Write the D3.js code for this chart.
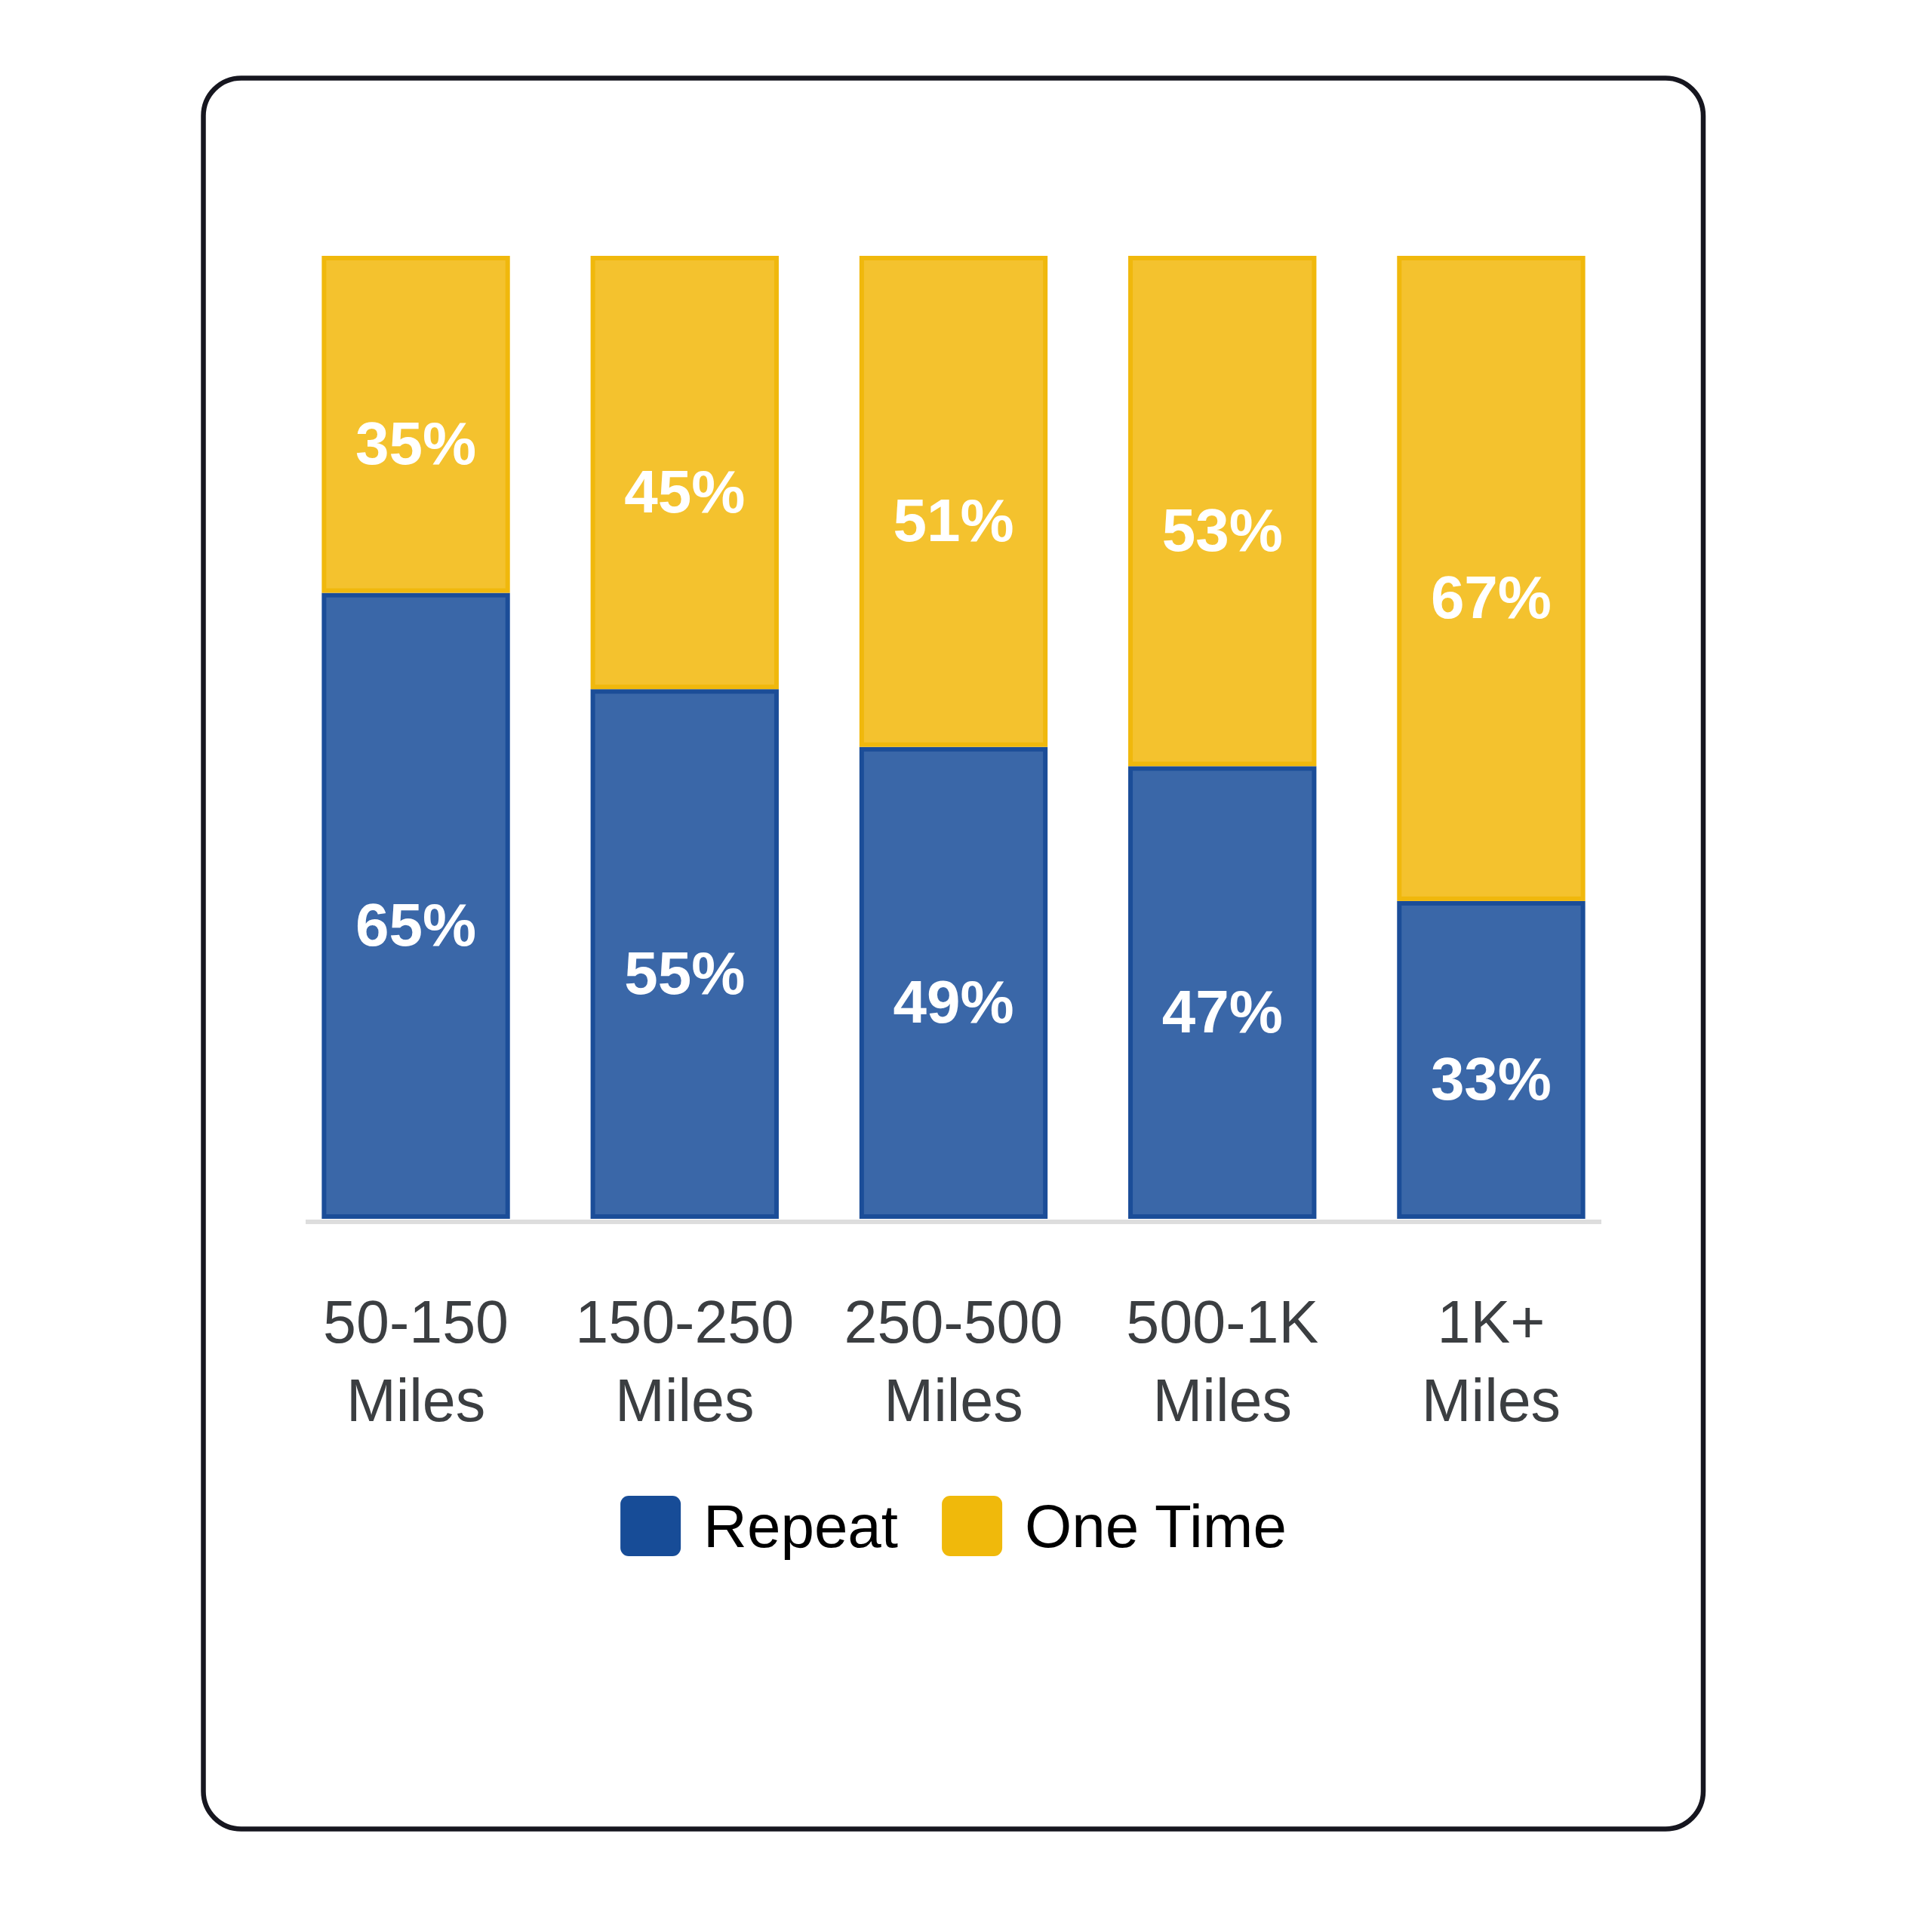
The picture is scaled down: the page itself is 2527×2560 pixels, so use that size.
<!DOCTYPE html>
<html>
<head>
<meta charset="utf-8">
<script src="https://cdn.jsdelivr.net/npm/d3@7"></script>
<style>
  body { margin: 0; background: #ffffff; }
  text { font-family: "Liberation Sans", Arial, sans-serif; }
</style>
</head>
<body>
<div id="chart"></div>
<script>
// Data
var categories = ["50-150 Miles", "150-250 Miles", "250-500 Miles", "500-1K Miles", "1K+ Miles"];
var seriesNames = ["Repeat", "One Time"];
var repeatValues = [65, 55, 49, 47, 33];
var oneTimeValues = [35, 45, 51, 53, 67];

var width = 2527, height = 2560;
var fills = { "Repeat": "#3a67a8", "One Time": "#f4c22e" };
var strokes = { "Repeat": "#1b4d98", "One Time": "#f0b80c" };
var swatchColors = { "Repeat": "#174c97", "One Time": "#f0b90b" };
var sw = 6; // bar outline width

var rows = categories.map(function(c, i) {
    return { cat: c, "Repeat": repeatValues[i], "One Time": oneTimeValues[i] };
});
var stacked = d3.stack().keys(seriesNames)(rows);

var svg = d3.select("#chart").append("svg")
    .attr("width", width)
    .attr("height", height);

// rounded frame
svg.append("rect")
    .attr("x", 269.5).attr("y", 103.5)
    .attr("width", 1987.5).attr("height", 2320)
    .attr("rx", 50).attr("ry", 50)
    .attr("fill", "#ffffff")
    .attr("stroke", "#16161f")
    .attr("stroke-width", 6.5);

var x = d3.scaleBand()
    .domain(categories)
    .range([405, 2122])
    .paddingInner(0.3)
    .paddingOuter(0.06);

var y = d3.scaleLinear()
    .domain([0, 100])
    .range([1615, 339]);

// baseline
svg.append("line")
    .attr("x1", x.range()[0]).attr("x2", x.range()[1])
    .attr("y1", y(0) + 4).attr("y2", y(0) + 4)
    .attr("stroke", "#dddddd")
    .attr("stroke-width", 6);

var layer = svg.selectAll("g.layer")
    .data(stacked)
    .enter().append("g")
    .attr("class", "layer");

layer.selectAll("rect")
    .data(function(s) { return s.map(function(d) { d.key = s.key; return d; }); })
    .enter().append("rect")
    .attr("x", function(d) { return x(d.data.cat) + sw / 2; })
    .attr("y", function(d) { return y(d[1]) + sw / 2; })
    .attr("width", x.bandwidth() - sw)
    .attr("height", function(d) { return y(d[0]) - y(d[1]) - sw; })
    .attr("fill", function(d) { return fills[d.key]; })
    .attr("stroke", function(d) { return strokes[d.key]; })
    .attr("stroke-width", sw);

// value labels
layer.selectAll("text")
    .data(function(s) { return s; })
    .enter().append("text")
    .attr("x", function(d) { return x(d.data.cat) + x.bandwidth() / 2; })
    .attr("y", function(d) { return (y(d[0]) + y(d[1])) / 2 + 53; })
    .attr("text-anchor", "middle")
    .attr("fill", "#ffffff")
    .style("font-size", "80px")
    .style("font-weight", "bold")
    .text(function(d) { return (d[1] - d[0]) + "%"; });

// category axis
var xAxis = d3.axisBottom(x).tickSize(0).tickPadding(0);
var axisG = svg.append("g")
    .attr("transform", "translate(0," + y(0) + ")")
    .call(xAxis);
axisG.select(".domain").remove();
axisG.selectAll(".tick text")
    .attr("fill", "#3b3e41")
    .style("font-size", "79px")
    .attr("font-family", null)
    .attr("dy", null)
    .each(function(d) {
        var t = d3.select(this);
        var parts = d.split(" ");
        t.text(null);
        parts.forEach(function(p, i) {
            t.append("tspan")
                .attr("x", 0)
                .attr("y", 164 + i * 104)
                .text(p);
        });
    });

// legend
var legendY = 1982, swatch = 80, textGap = 30, itemGap = 58;
var legend = svg.append("g");
var items = legend.selectAll("g")
    .data(seriesNames)
    .enter().append("g");
items.append("rect")
    .attr("width", swatch).attr("height", swatch)
    .attr("y", legendY)
    .attr("rx", 11).attr("ry", 11)
    .attr("fill", function(d) { return swatchColors[d]; });
items.append("text")
    .attr("y", legendY + swatch / 2 + 28)
    .attr("x", swatch + textGap)
    .attr("fill", "#000000")
    .style("font-size", "80px")
    .text(function(d) { return d; });

var offsets = [], total = 0;
items.each(function(d, i) {
    var w = swatch + textGap + d3.select(this).select("text").node().getComputedTextLength();
    offsets.push(total);
    total += w + (i < seriesNames.length - 1 ? itemGap : 0);
});
var center = (x.range()[0] + x.range()[1]) / 2;
items.attr("transform", function(d, i) {
    return "translate(" + (center - total / 2 + offsets[i]) + ",0)";
});
</script>
</body>
</html>
